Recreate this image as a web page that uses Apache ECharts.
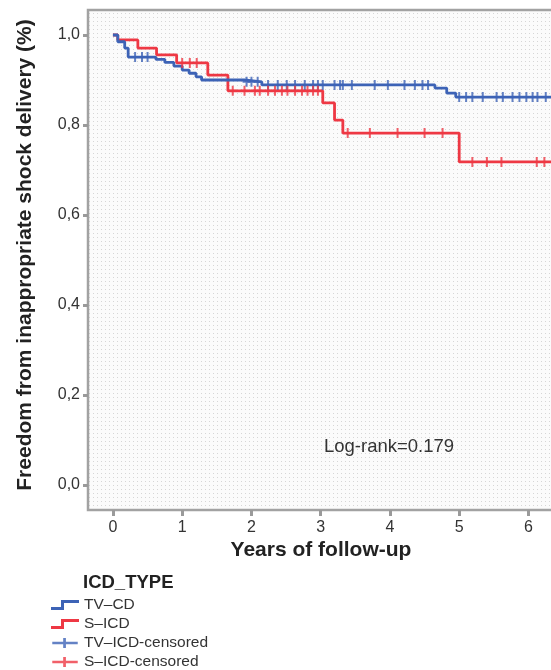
<!DOCTYPE html>
<html>
<head>
<meta charset="utf-8">
<script src="https://cdn.jsdelivr.net/npm/echarts@6/dist/echarts.min.js"></script>
<style>
html,body{margin:0;padding:0;background:#fff;}
#c{width:551px;height:670px;}
</style>
</head>
<body>
<div id="c"></div>
<script>
// ---- Data ----
var xTicks = [0, 1, 2, 3, 4, 5, 6];
var yTicks = [0, 0.2, 0.4, 0.6, 0.8, 1.0];

// TV-ICD Kaplan-Meier step curve
var blueT = [0, 0.07, 0.17, 0.22, 0.62, 0.75, 0.88, 1.0, 1.1, 1.2, 1.28, 1.9, 2.15, 4.65, 4.82, 4.95, 6.5];
var blueS = [1.0, 0.985, 0.971, 0.951, 0.946, 0.939, 0.931, 0.922, 0.915, 0.907, 0.900, 0.896, 0.889, 0.882, 0.871, 0.862, 0.862];

// S-ICD Kaplan-Meier step curve
var redT = [0, 0.07, 0.36, 0.63, 0.92, 1.37, 1.66, 3.03, 3.2, 3.32, 5.0, 6.5];
var redS = [1.0, 0.989, 0.971, 0.956, 0.938, 0.911, 0.876, 0.849, 0.811, 0.782, 0.718, 0.718];

// censored observations
var blueCensT = [0.32, 0.42, 0.50, 1.93, 2.0, 2.09, 2.24, 2.38, 2.51, 2.63, 2.77, 2.89, 2.96, 3.03, 3.2, 3.28, 3.32, 3.45, 3.78, 3.97, 4.21, 4.36, 4.47, 4.55, 5.0, 5.1, 5.19, 5.34, 5.54, 5.63, 5.77, 5.87, 5.97, 6.06, 6.13, 6.25];
var blueCensS = [0.951, 0.951, 0.951, 0.896, 0.896, 0.896, 0.889, 0.889, 0.889, 0.889, 0.889, 0.889, 0.889, 0.889, 0.889, 0.889, 0.889, 0.889, 0.889, 0.889, 0.889, 0.889, 0.889, 0.889, 0.862, 0.862, 0.862, 0.862, 0.862, 0.862, 0.862, 0.862, 0.862, 0.862, 0.862, 0.862];
var redCensT = [1.0, 1.11, 1.21, 1.73, 1.9, 2.05, 2.12, 2.24, 2.34, 2.44, 2.52, 2.63, 2.73, 2.81, 2.89, 2.96, 3.39, 3.71, 4.11, 4.5, 4.76, 5.19, 5.4, 5.61, 6.12, 6.23];
var redCensS = [0.938, 0.938, 0.938, 0.876, 0.876, 0.876, 0.876, 0.876, 0.876, 0.876, 0.876, 0.876, 0.876, 0.876, 0.876, 0.876, 0.782, 0.782, 0.782, 0.782, 0.782, 0.718, 0.718, 0.718, 0.718, 0.718];

var seriesNames = ['TV\u2013CD', 'S\u2013ICD', 'TV\u2013ICD-censored', 'S\u2013ICD-censored'];
var legendTitle = 'ICD_TYPE';
var xTitle = 'Years of follow-up';
var yTitle = 'Freedom from inappropriate shock delivery (%)';
var noteText = 'Log-rank=0.179';

// ---- Build ----
function pairs(a, b) { return a.map(function (v, i) { return [v, b[i]]; }); }

var BLUE = '#3d63b6';
var RED = '#ee3844';
var FONT = 'Liberation Sans, Arial, Helvetica, sans-serif';

var pc = document.createElement('canvas');
pc.width = 4; pc.height = 4;
var pctx = pc.getContext('2d');
pctx.fillStyle = '#fbfbfb'; pctx.fillRect(0, 0, 4, 4);
pctx.fillStyle = '#d6d6d6'; pctx.fillRect(1, 1, 1, 1);

var crossPath = 'path://M0,4 L3,4 L3,0 L5,0 L5,4 L8,4 L8,6 L5,6 L5,10 L3,10 L3,6 L0,6 Z';
var stepIcon = 'path://M0,8 L10,8 L10,1 L28,1 L28,4 L13,4 L13,11 L0,11 Z';
var crossIcon = 'path://M0,4 L12,4 L12,0 L15,0 L15,4 L28,4 L28,7 L15,7 L15,11 L12,11 L12,7 L0,7 Z';

var chart = echarts.init(document.getElementById('c'), null, { renderer: 'canvas' });
chart.setOption({
  animation: false,
  backgroundColor: '#ffffff',
  textStyle: { fontFamily: FONT },
  grid: {
    left: 88, top: 10, width: 482, height: 500,
    outerBoundsMode: 'none',
    containLabel: false,
    show: true,
    backgroundColor: { image: pc, repeat: 'repeat' },
    borderColor: '#a2a2a2', borderWidth: 2.5
  },
  xAxis: {
    type: 'value', min: -0.36, max: 6.6,
    axisLine: { show: false, onZero: false },
    splitLine: { show: false },
    axisTick: { show: true, length: 6, customValues: xTicks, lineStyle: { color: '#9a9a9a', width: 3 } },
    axisLabel: { customValues: xTicks, margin: 10, fontSize: 16, color: '#333', fontFamily: FONT }
  },
  yAxis: {
    type: 'value', min: -0.0556, max: 1.0556,
    axisLine: { show: false, onZero: false },
    splitLine: { show: false },
    axisTick: { show: true, length: 5, customValues: yTicks, lineStyle: { color: '#9a9a9a', width: 3 } },
    axisLabel: {
      customValues: yTicks, margin: 8, fontSize: 16, color: '#333', fontFamily: FONT,
      formatter: function (v) { return v.toFixed(1).replace('.', ','); }
    }
  },
  legend: {
    orient: 'vertical', left: 51, top: 597, padding: 0,
    itemWidth: 28, itemHeight: 10, itemGap: 3, itemTextGap: 0,
    textStyle: { fontSize: 15.5, lineHeight: 15, color: '#333', fontFamily: FONT },
    data: [
      { name: seriesNames[0], icon: stepIcon, itemStyle: { color: BLUE } },
      { name: seriesNames[1], icon: stepIcon, itemStyle: { color: RED } },
      { name: seriesNames[2], icon: crossIcon, itemStyle: { color: BLUE } },
      { name: seriesNames[3], icon: crossIcon, itemStyle: { color: RED } }
    ]
  },
  graphic: [
    { type: 'text', x: 25, y: 255, rotation: Math.PI / 2,
      style: { text: yTitle, font: 'bold 21px ' + FONT, fill: '#222', align: 'center', verticalAlign: 'middle' } },
    { type: 'text', x: 321, y: 550,
      style: { text: xTitle, font: 'bold 21px ' + FONT, fill: '#222', align: 'center', verticalAlign: 'middle' } },
    { type: 'text', x: 389, y: 447,
      style: { text: noteText, font: '18.5px ' + FONT, fill: '#333', align: 'center', verticalAlign: 'middle' } },
    { type: 'text', x: 83, y: 583,
      style: { text: legendTitle, font: 'bold 18.5px ' + FONT, fill: '#222', align: 'left', verticalAlign: 'middle' } }
  ],
  series: [
    { name: seriesNames[0], type: 'line', step: 'end', data: pairs(blueT, blueS),
      showSymbol: false, symbol: 'none', lineStyle: { color: BLUE, width: 2.8 }, itemStyle: { color: BLUE }, z: 3 },
    { name: seriesNames[1], type: 'line', step: 'end', data: pairs(redT, redS),
      showSymbol: false, symbol: 'none', lineStyle: { color: RED, width: 2.8 }, itemStyle: { color: RED }, z: 2 },
    { name: seriesNames[2], type: 'scatter', data: pairs(blueCensT, blueCensS),
      symbol: crossPath, symbolSize: [8, 10], itemStyle: { color: BLUE }, z: 4 },
    { name: seriesNames[3], type: 'scatter', data: pairs(redCensT, redCensS),
      symbol: crossPath, symbolSize: [8, 10], itemStyle: { color: RED }, z: 4 }
  ]
});
</script>
</body>
</html>
